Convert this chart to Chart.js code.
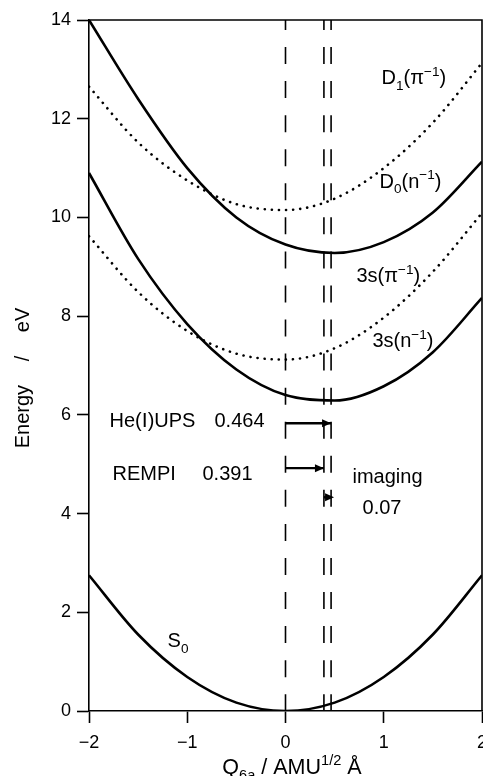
<!DOCTYPE html>
<html>
<head>
<meta charset="utf-8">
<script src="https://cdn.jsdelivr.net/npm/chart.js@4/dist/chart.umd.min.js"></script>
<style>
  html, body { margin: 0; padding: 0; background: #fff; }
  canvas { display: block; }
</style>
</head>
<body>
<canvas id="myChart" width="483" height="776"></canvas>
<script>
// coordinate grid (Q6a, AMU^1/2 Å)
const qGrid = [-2, -1.5, -1, -0.5, 0, 0.5, 1, 1.5, 2];

// potential curves, energies in eV
const cationD0 = [14.0, 12.4, 11.0, 10.0, 9.45, 9.28, 9.5, 10.1, 11.13];
const cationD1 = [12.65, 11.52, 10.75, 10.27, 10.15, 10.38, 11.0, 11.92, 13.13];
const rydbergN = [10.9, 9.16, 7.84, 6.92, 6.40, 6.29, 6.58, 7.27, 8.37];
const rydbergPi = [9.62, 8.49, 7.70, 7.24, 7.12, 7.35, 7.97, 8.9, 10.09];
const groundS0 = [2.75, 1.55, 0.69, 0.17, 0, 0.17, 0.69, 1.55, 2.75];

// geometry shifts (dashed markers)
const shiftMarks = [0, 0.391, 0.464];

// arrows: start, end, energy level
const arrowStart = [0, 0, 0.391];
const arrowEnd = [0.464, 0.391, 0.464];
const arrowLevel = [5.83, 4.92, 4.33];

const xTicks = [-2, -1, 0, 1, 2];
const yTicks = [0, 2, 4, 6, 8, 10, 12, 14];

const FONT = '"Liberation Sans", Arial, "Noto Sans CJK JP", sans-serif';

function pts(ys) {
  return qGrid.map((q, i) => ({ x: q, y: ys[i] }));
}

function curve(ys, dotted) {
  return {
    data: pts(ys),
    borderColor: '#000',
    borderWidth: 2.6,
    borderDash: dotted ? [0.1, 7] : [],
    borderCapStyle: dotted ? 'round' : 'butt',
    pointRadius: 0,
    cubicInterpolationMode: 'monotone',
    fill: false
  };
}

var datasets = [
  curve(cationD0, false),
  curve(cationD1, true),
  curve(rydbergN, false),
  curve(rydbergPi, true),
  curve(groundS0, false)
];

shiftMarks.forEach(function (q) {
  datasets.push({
    data: [{ x: q, y: 14 }, { x: q, y: 0 }],
    borderColor: '#000',
    borderWidth: 1.6,
    borderDash: [17, 17.06],
    borderDashOffset: 7,
    pointRadius: 0,
    tension: 0
  });
});

arrowStart.forEach(function (q, i) {
  datasets.push({
    data: [{ x: q, y: arrowLevel[i] }, { x: arrowEnd[i], y: arrowLevel[i] }],
    borderColor: '#000',
    borderWidth: 2.4,
    pointRadius: 0,
    tension: 0
  });
});

// draw text with sub/superscript parts; p[2] = optional font family
function richText(ctx, parts, x, y, size) {
  var cx = x;
  parts.forEach(function (p) {
    var s = p[1] ? size * 0.68 : size;
    var dy = p[1] === 'sub' ? size * 0.28 : (p[1] === 'sup' ? -size * 0.42 : 0);
    ctx.font = s + 'px ' + (p[2] || FONT);
    ctx.fillText(p[0], cx, y + dy);
    cx += ctx.measureText(p[0]).width;
  });
  return cx - x;
}

function richWidth(ctx, parts, size) {
  var w = 0;
  parts.forEach(function (p) {
    ctx.font = (p[1] ? size * 0.68 : size) + 'px ' + (p[2] || FONT);
    w += ctx.measureText(p[0]).width;
  });
  return w;
}

const extras = {
  id: 'extras',
  afterDatasetsDraw(chart) {
    var ctx = chart.ctx;
    var xs = chart.scales.x, ys = chart.scales.y;
    var a = chart.chartArea;
    ctx.save();
    ctx.strokeStyle = '#000';
    ctx.lineWidth = 1.6;
    ctx.beginPath();
    ctx.moveTo(a.left, a.top);
    ctx.lineTo(a.right, a.top);
    ctx.lineTo(a.right, a.bottom);
    ctx.stroke();

    // arrowheads
    ctx.fillStyle = '#000';
    arrowEnd.forEach(function (q, i) {
      var px = xs.getPixelForValue(q) + (i === 2 ? 3 : 0);
      var py = ys.getPixelForValue(arrowLevel[i]);
      ctx.beginPath();
      ctx.moveTo(px, py);
      ctx.lineTo(px - 9, py - 4);
      ctx.lineTo(px - 9, py + 4);
      ctx.closePath();
      ctx.fill();
    });

    ctx.textBaseline = 'alphabetic';
    ctx.textAlign = 'left';
    function at(q, e) { return [xs.getPixelForValue(q), ys.getPixelForValue(e)]; }
    var p, L = 20;
    p = at(0.977, 12.70); richText(ctx, [['D', ''], ['1', 'sub'], ['(π', ''], ['−1', 'sup'], [')', '']], p[0], p[1], L);
    p = at(0.957, 10.60); richText(ctx, [['D', ''], ['0', 'sub'], ['(n', ''], ['−1', 'sup'], [')', '']], p[0], p[1], L);
    p = at(0.722, 8.69); richText(ctx, [['3s(π', ''], ['−1', 'sup'], [')', '']], p[0], p[1], L);
    p = at(0.885, 7.37); richText(ctx, [['3s(n', ''], ['−1', 'sup'], [')', '']], p[0], p[1], L);
    p = at(-1.791, 5.75); richText(ctx, [['He(', ''], ['Ⅰ', '', '"DejaVu Sans", ' + FONT], [')UPS', '']], p[0], p[1], L);
    p = at(-0.723, 5.75); richText(ctx, [['0.464', '']], p[0], p[1], L);
    p = at(-1.76, 4.68); richText(ctx, [['REMPI', '']], p[0], p[1], L);
    p = at(-0.845, 4.68); richText(ctx, [['0.391', '']], p[0], p[1], L);
    p = at(0.682, 4.62); richText(ctx, [['imaging', '']], p[0], p[1], L);
    p = at(0.784, 3.99); richText(ctx, [['0.07', '']], p[0], p[1], L);
    p = at(-1.20, 1.29); richText(ctx, [['S', ''], ['0', 'sub']], p[0], p[1], L);

    // x axis title
    var parts = [['Q', ''], ['6a', 'sub'], [' / AMU', ''], ['1/2', 'sup'], [' Å', '']];
    var w = richWidth(ctx, parts, 21.5);
    richText(ctx, parts, 292 - w / 2, 774, 21.5);

    // y axis title
    ctx.translate(29, 378);
    ctx.rotate(-Math.PI / 2);
    ctx.textAlign = 'center';
    ctx.font = '20px ' + FONT;
    ctx.wordSpacing = '18px';
    ctx.fillText('Energy / eV', 0, 0);
    ctx.restore();
  }
};

var myChart = new Chart('myChart', {
  type: 'line',
  data: { datasets: datasets },
  options: {
    responsive: false,
    animation: false,
    maintainAspectRatio: false,
    layout: { autoPadding: false, padding: { top: 20, right: 1, left: 0, bottom: 0 } },
    plugins: { legend: { display: false }, tooltip: { enabled: false } },
    scales: {
      x: {
        type: 'linear',
        min: -2, max: 2,
        afterFit: function (s) { s.height = 65; s.paddingLeft = 0; s.paddingRight = 0; },
        afterBuildTicks: function (s) { s.ticks = xTicks.map(v => ({ value: v })); },
        grid: { drawOnChartArea: false, tickLength: 12, tickColor: '#000', tickWidth: 1.6 },
        border: { color: '#000', width: 1.6 },
        ticks: {
          color: '#000', padding: 9,
          font: { family: FONT, size: 18 },
          callback: v => (v < 0 ? '−' + Math.abs(v) : '' + v)
        }
      },
      y: {
        type: 'linear',
        min: 0, max: 14,
        afterFit: function (s) { s.width = 89; s.paddingTop = 0; s.paddingBottom = 0; },
        afterBuildTicks: function (s) { s.ticks = yTicks.map(v => ({ value: v })); },
        grid: { drawOnChartArea: false, tickLength: 12, tickColor: '#000', tickWidth: 1.6 },
        border: { color: '#000', width: 1.6 },
        ticks: {
          color: '#000', padding: 6,
          font: { family: FONT, size: 18 }
        }
      }
    }
  },
  plugins: [extras]
});
</script>
</body>
</html>
